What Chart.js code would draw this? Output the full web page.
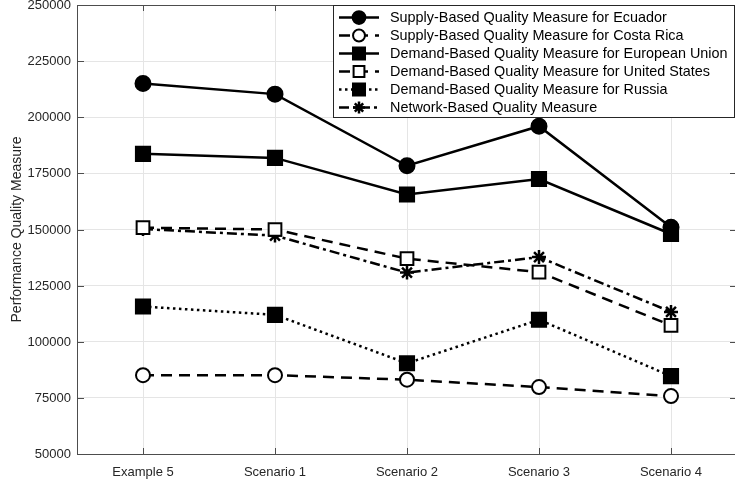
<!DOCTYPE html>
<html>
<head>
<meta charset="utf-8">
<script src="https://cdn.jsdelivr.net/npm/chart.js@4/dist/chart.umd.min.js"></script>
<style>
  html, body { margin: 0; padding: 0; background: #fff; overflow: hidden; }
  #wrap { width: 738px; height: 483px; }
</style>
</head>
<body>
<div id="wrap"><canvas id="qualityChart"></canvas></div>
<script>
const categories = ['Example 5', 'Scenario 1', 'Scenario 2', 'Scenario 3', 'Scenario 4'];

const ecuadorSupply = [215000, 210300, 178400, 196000, 151000];
const costaRicaSupply = [85100, 85100, 83100, 79800, 75800];
const euDemand = [183700, 181900, 165600, 172500, 148000];
const usDemand = [150800, 150000, 137000, 131000, 107300];
const russiaDemand = [115700, 112000, 90400, 109800, 84700];
const networkBased = [150200, 147300, 130800, 137700, 113300];

const seriesNames = [
    'Supply-Based Quality Measure for Ecuador',
    'Supply-Based Quality Measure for Costa Rica',
    'Demand-Based Quality Measure for European Union',
    'Demand-Based Quality Measure for United States',
    'Demand-Based Quality Measure for Russia',
    'Network-Based Quality Measure'
];

const yMin = 50000, yMax = 250000, yStep = 25000;

const FONT = '"Liberation Sans", Arial, Helvetica, sans-serif';
const INK = '#262626';

function series(label, data, style, fill, radius, dash) {
    return {
        label: label,
        data: data,
        borderColor: '#000',
        backgroundColor: fill,
        borderWidth: 2.5,
        borderDash: dash,
        tension: 0,
        fill: false,
        pointStyle: style,
        pointRadius: radius,
        pointHoverRadius: radius,
        pointBackgroundColor: fill,
        pointBorderColor: '#000',
        pointBorderWidth: style === 'star' ? 2.5 : 2
    };
}

// frame, inward ticks, tick labels and legend box (matlab look)
const frameAndLegend = {
    id: 'frameAndLegend',
    afterDraw(chart) {
        const ctx = chart.ctx;
        const a = chart.chartArea;
        const xs = chart.scales.x, ys = chart.scales.y;
        ctx.save();
        ctx.strokeStyle = '#4d4d4d';
        ctx.lineWidth = 1;
        ctx.setLineDash([]);
        ctx.strokeRect(a.left + 0.5, a.top + 0.5, a.right - a.left - 1, a.bottom - a.top);
        ctx.beginPath();
        xs.ticks.forEach((t, i) => {
            const x = Math.round(xs.getPixelForTick(i)) + 0.5;
            ctx.moveTo(x, a.bottom); ctx.lineTo(x, a.bottom - 6);
            ctx.moveTo(x, a.top); ctx.lineTo(x, a.top + 6);
        });
        ys.ticks.forEach((t, i) => {
            const y = Math.round(ys.getPixelForTick(i)) + 0.5;
            ctx.moveTo(a.left, y); ctx.lineTo(a.left + 7, y);
            ctx.moveTo(a.right, y); ctx.lineTo(a.right - 7, y);
        });
        ctx.stroke();

        ctx.fillStyle = INK;
        ctx.font = '13px ' + FONT;
        ctx.textBaseline = 'middle';
        ctx.textAlign = 'right';
        ys.ticks.forEach((t, i) => {
            ctx.fillText(String(t.value), a.left - 6, ys.getPixelForTick(i) + 0.5);
        });
        ctx.textAlign = 'center';
        xs.ticks.forEach((t, i) => {
            ctx.fillText(xs.getLabelForValue(t.value), xs.getPixelForTick(i), a.bottom + 18);
        });

        // legend
        const bx = 333, by = 5, bw = 402, bh = 113;
        ctx.textAlign = 'left';
        ctx.fillStyle = '#fff';
        ctx.fillRect(bx, by, bw, bh);
        ctx.strokeStyle = '#262626';
        ctx.strokeRect(bx + 0.5, by + 0.5, bw - 1, bh - 1);
        ctx.font = '14.4px ' + FONT;
        chart.data.datasets.forEach((ds, i) => {
            const y = by + 12.5 + i * 18;
            ctx.strokeStyle = '#000';
            ctx.lineWidth = 2.5;
            ctx.setLineDash(ds.borderDash || []);
            ctx.beginPath();
            ctx.moveTo(339, y); ctx.lineTo(379, y);
            ctx.stroke();
            ctx.setLineDash([]);
            ctx.fillStyle = ds.pointBackgroundColor;
            ctx.strokeStyle = '#000';
            ctx.lineWidth = ds.pointBorderWidth;
            Chart.helpers.drawPoint(ctx, {
                pointStyle: ds.pointStyle,
                radius: ds.pointRadius * 0.85,
                rotation: 0,
                borderWidth: ds.pointBorderWidth
            }, 359, y);
            ctx.fillStyle = '#000';
            ctx.fillText(ds.label, 390, y + 1);
        });
        ctx.restore();
    }
};

new Chart(document.getElementById('qualityChart'), {
    type: 'line',
    data: {
        labels: categories,
        datasets: [
            series(seriesNames[0], ecuadorSupply, 'circle', '#000', 7.5, []),
            series(seriesNames[1], costaRicaSupply, 'circle', '#fff', 7, [11, 7]),
            series(seriesNames[2], euDemand, 'rect', '#000', 10, []),
            series(seriesNames[3], usDemand, 'rect', '#fff', 9, [11, 7]),
            series(seriesNames[4], russiaDemand, 'rect', '#000', 10, [2.5, 3.5]),
            series(seriesNames[5], networkBased, 'star', '#000', 7, [10, 4, 3, 4])
        ]
    },
    options: {
        responsive: true,
        maintainAspectRatio: false,
        animation: false,
        layout: { autoPadding: false, padding: { top: 5, right: 1, left: 0, bottom: 0 } },
        plugins: {
            legend: { display: false },
            tooltip: { enabled: false }
        },
        scales: {
            x: {
                offset: true,
                grid: { color: '#e5e5e5', drawTicks: false, offset: false },
                border: { display: false },
                ticks: { display: false },
                afterFit(scale) { scale.height = 29; }
            },
            y: {
                min: yMin,
                max: yMax,
                grid: { color: '#e5e5e5', drawTicks: false },
                border: { display: false },
                ticks: { display: false, stepSize: yStep },
                title: {
                    display: true,
                    text: 'Performance Quality Measure',
                    color: INK,
                    font: { family: FONT, size: 14 },
                    padding: { top: 9, bottom: 2 }
                },
                afterFit(scale) { scale.width = 77; }
            }
        }
    },
    plugins: [frameAndLegend]
});
</script>
</body>
</html>
